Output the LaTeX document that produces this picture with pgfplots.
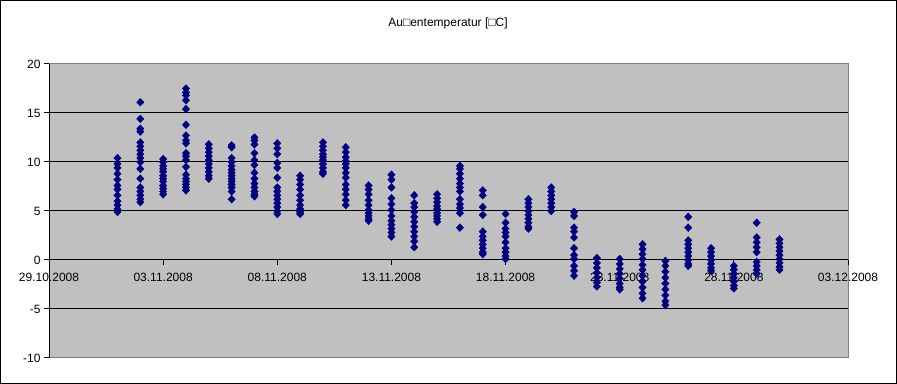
\documentclass[border=0pt]{standalone}
\usepackage{fontspec}
\setmainfont{Liberation Sans}
\usepackage{pgfplots}
\pgfplotsset{compat=1.18}
\definecolor{plotgray}{RGB}{192,192,192}
\definecolor{navyblue}{RGB}{0,0,128}
\definecolor{bordergray}{RGB}{128,128,128}
\begin{document}
\begin{tikzpicture}
\draw[black, line width=1bp] (0.5bp,0.5bp) rectangle (896.5bp,383.5bp);
\node[font=\fontsize{12bp}{14bp}\selectfont] at (448bp,361bp) {Au□entemperatur [□C]};
\begin{axis}[
 at={(49bp,26bp)}, anchor=south west,
 scale only axis, width=799bp, height=294bp,
 xmin=0, xmax=35, ymin=-10, ymax=20,
 axis x line=middle, axis y line=left,
 axis line style={-, black, line width=1bp},
 axis background/.style={fill=plotgray, draw=bordergray, line width=1bp},
 xtick={0,5,...,35},
 xticklabels={29.10.2008,03.11.2008,08.11.2008,13.11.2008,18.11.2008,23.11.2008,28.11.2008,03.12.2008},
 ytick={-10,-5,...,20},
 yticklabels={-10,-5,0,5,10,15,20},
 extra y ticks={-5,5,10,15}, extra y tick labels={},
 extra y tick style={grid=major, major tick length=0pt},
 grid style={black, line width=1bp},
 tick align=outside, major tick length=5bp,
 tick style={black, line width=1bp},
 hide obscured x ticks=false, hide obscured y ticks=false,
 ticklabel style={font=\fontsize{12bp}{14bp}\selectfont},
 xticklabel style={yshift=-5bp},
]
\addplot[only marks, mark=diamond*, mark size=3.9bp, mark options={fill=navyblue, draw=navyblue, xscale=1.25}] coordinates {
(3,10.4)(3,9.8)(3,9.4)(3,8.8)(3,8.2)(3,7.6)(3,7.2)(3,6.6)(3,6.0)(3,5.6)(3,5.2)(3,4.9)
(4,16.1)(4,14.4)(4,13.4)(4,13.1)(4,12.0)(4,11.6)(4,11.2)(4,10.8)(4,10.4)(4,10.0)(4,9.3)(4,8.3)(4,7.4)(4,7.0)(4,6.6)(4,6.2)(4,5.9)
(5,10.3)(5,10.0)(5,9.6)(5,9.3)(5,9.0)(5,8.6)(5,8.3)(5,8.0)(5,7.6)(5,7.3)(5,7.0)(5,6.7)
(6,17.5)(6,17.1)(6,16.8)(6,16.3)(6,15.4)(6,13.8)(6,12.7)(6,12.2)(6,11.9)(6,10.9)(6,10.6)(6,10.2)(6,9.5)(6,8.7)(6,8.3)(6,8.0)(6,7.7)(6,7.4)(6,7.1)
(7,11.8)(7,11.4)(7,11.0)(7,10.6)(7,10.2)(7,9.8)(7,9.4)(7,9.0)(7,8.6)(7,8.3)
(8,11.7)(8,11.5)(8,10.4)(8,10.0)(8,9.6)(8,9.2)(8,8.9)(8,8.6)(8,8.3)(8,8.0)(8,7.7)(8,7.4)(8,7.0)(8,6.2)
(9,12.5)(9,12.2)(9,11.8)(9,10.9)(9,10.2)(9,9.7)(9,8.9)(9,8.3)(9,7.8)(9,7.4)(9,7.0)(9,6.7)(9,6.5)
(10,11.9)(10,11.4)(10,10.8)(10,9.9)(10,9.4)(10,8.4)(10,7.4)(10,7.0)(10,6.6)(10,6.2)(10,5.8)(10,5.4)(10,5.0)(10,4.7)
(11,8.6)(11,8.2)(11,7.7)(11,7.2)(11,6.6)(11,6.1)(11,5.6)(11,5.2)(11,4.9)(11,4.7)
(12,12.0)(12,11.6)(12,11.2)(12,10.8)(12,10.5)(12,10.2)(12,9.8)(12,9.4)(12,9.0)(12,8.8)
(13,11.5)(13,11.0)(13,10.5)(13,10.1)(13,9.8)(13,9.4)(13,8.9)(13,8.4)(13,7.7)(13,7.2)(13,6.7)(13,6.1)(13,5.6)
(14,7.6)(14,7.2)(14,6.7)(14,6.1)(14,5.6)(14,5.1)(14,4.8)(14,4.5)(14,4.2)(14,4.0)
(15,8.7)(15,8.2)(15,7.4)(15,6.3)(15,5.7)(15,5.1)(15,4.5)(15,4.0)(15,3.6)(15,3.2)(15,2.8)(15,2.4)
(16,6.6)(16,5.8)(16,5.4)(16,4.9)(16,4.4)(16,3.9)(16,3.4)(16,2.9)(16,2.4)(16,1.9)(16,1.3)
(17,6.7)(17,6.3)(17,5.9)(17,5.5)(17,5.2)(17,4.8)(17,4.5)(17,4.2)(17,3.9)
(18,9.6)(18,9.3)(18,8.8)(18,8.3)(18,7.8)(18,7.4)(18,7.0)(18,6.2)(18,5.7)(18,5.3)(18,4.8)(18,3.3)
(19,7.1)(19,6.6)(19,5.4)(19,4.6)(19,2.9)(19,2.4)(19,2.0)(19,1.6)(19,1.2)(19,0.8)(19,0.6)
(20,4.7)(20,3.8)(20,3.2)(20,2.8)(20,2.4)(20,1.8)(20,1.2)(20,0.8)(20,0.4)(20,0.1)
(21,6.2)(21,5.8)(21,5.4)(21,5.0)(21,4.6)(21,4.2)(21,3.8)(21,3.4)(21,3.2)
(22,7.4)(22,7.0)(22,6.6)(22,6.2)(22,5.8)(22,5.4)(22,5.0)
(23,4.9)(23,4.5)(23,3.3)(23,2.9)(23,2.3)(23,1.2)(23,0.5)(23,0.1)(23,-0.6)(23,-1.1)(23,-1.6)
(24,0.2)(24,-0.3)(24,-0.8)(24,-1.3)(24,-1.8)(24,-2.3)(24,-2.7)
(25,0.1)(25,-0.4)(25,-0.9)(25,-1.4)(25,-1.9)(25,-2.4)(25,-2.8)(25,-3.0)
(26,1.6)(26,1.1)(26,0.6)(26,0.1)(26,-0.5)(26,-1.0)(26,-1.6)(26,-2.2)(26,-2.8)(26,-3.4)(26,-3.9)
(27,-0.1)(27,-0.6)(27,-1.2)(27,-1.8)(27,-2.4)(27,-3.0)(27,-3.6)(27,-4.2)(27,-4.6)
(28,4.4)(28,3.3)(28,2.0)(28,1.6)(28,1.2)(28,0.8)(28,0.4)(28,0.0)(28,-0.4)(28,-0.6)
(29,1.2)(29,0.8)(29,0.4)(29,0.0)(29,-0.4)(29,-0.8)(29,-1.1)
(30,-0.6)(30,-1.0)(30,-1.4)(30,-1.8)(30,-2.2)(30,-2.6)(30,-2.9)
(31,3.8)(31,2.3)(31,1.8)(31,1.3)(31,0.8)(31,-0.2)(31,-0.6)(31,-1.0)(31,-1.4)
(32,2.1)(32,1.7)(32,1.3)(32,0.9)(32,0.5)(32,0.1)(32,-0.3)(32,-0.7)(32,-1.0)
};
\end{axis}
\end{tikzpicture}
\end{document}
